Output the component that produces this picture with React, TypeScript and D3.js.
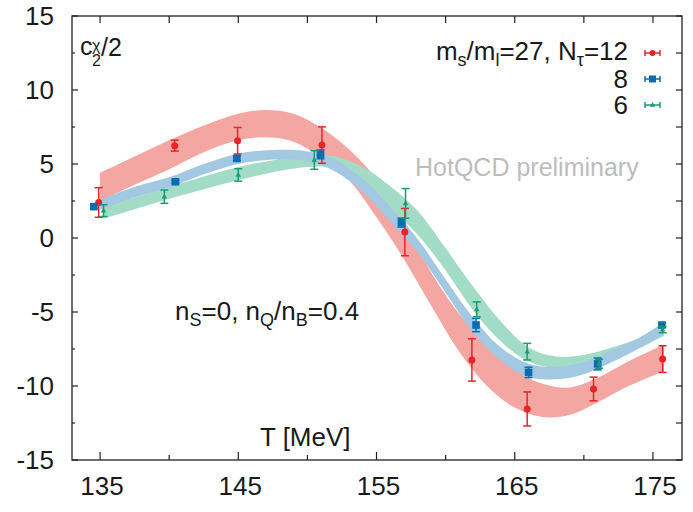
import React from "react";
import * as d3 from "d3";

// fit bands (T, lower, upper)
const redBandT = [135, 137.5, 140, 142.5, 145, 147, 149, 151, 153, 155, 157, 159, 161, 163, 165, 167, 169, 171, 173, 175.8];
const redBandLo = [2.5, 3.6, 4.65, 5.8, 6.6, 6.8, 6.5, 5.4, 3.9, 1.4, -1.45, -4.65, -7.7, -10.0, -11.45, -12.1, -11.95, -11.1, -10.1, -9.0];
const redBandHi = [4.4, 5.5, 6.6, 7.6, 8.4, 8.65, 8.4, 7.45, 6.0, 4.0, 1.2, -2.4, -5.15, -7.2, -8.9, -9.85, -10.1, -9.45, -8.45, -7.2];

const blueBandT = [135, 137.5, 140, 142.5, 145, 147.5, 150, 152, 154, 156, 158, 160, 162, 164, 166, 168, 170, 172, 174, 175.8];
const blueBandLo = [1.9, 2.75, 3.4, 4.3, 5.0, 5.3, 5.2, 4.5, 3.1, 1.1, -1.0, -3.7, -6.4, -8.3, -9.4, -9.55, -9.2, -8.4, -7.45, -6.45];
const blueBandHi = [2.6, 3.45, 4.1, 5.0, 5.7, 5.95, 5.85, 5.3, 4.0, 2.1, -0.1, -2.8, -5.4, -7.4, -8.5, -8.7, -8.4, -7.6, -6.75, -5.7];

const greenBandT = [135.2, 137.5, 140, 142.5, 145, 147.5, 150, 152, 154, 156, 158, 160, 162, 164, 166, 168, 170, 172, 174, 175.8];
const greenBandLo = [1.3, 1.95, 2.65, 3.3, 3.9, 4.45, 4.8, 4.7, 3.7, 2.0, 0.2, -2.2, -4.9, -7.0, -8.35, -8.8, -8.7, -8.2, -7.45, -6.6];
const greenBandHi = [2.1, 2.75, 3.45, 4.15, 4.8, 5.25, 5.6, 5.5, 4.8, 3.5, 1.8, -0.7, -3.3, -5.65, -7.4, -8.0, -7.9, -7.4, -6.75, -5.9];

// lattice points (T, value, error)
const redT = [134.9, 140.4, 144.95, 151.05, 157.05, 161.9, 165.9, 170.7, 175.7];
const redV = [2.4, 6.24, 6.57, 6.28, 0.4, -8.24, -11.55, -10.2, -8.18];
const redE = [1.0, 0.37, 0.9, 1.23, 1.6, 1.43, 1.15, 0.8, 0.9];

const blueT = [134.55, 140.45, 144.9, 150.95, 156.8, 162.2, 166.0, 171.0, 175.65];
const blueV = [2.12, 3.8, 5.38, 5.65, 1.04, -5.88, -9.08, -8.51, -5.88];
const blueE = [0.1, 0.1, 0.15, 0.3, 0.3, 0.45, 0.35, 0.4, 0.15];

const greenT = [135.25, 139.65, 145.0, 150.5, 157.1, 162.25, 165.9, 171.1, 175.7];
const greenV = [1.85, 2.79, 4.26, 5.27, 2.34, -4.82, -7.68, -8.5, -6.2];
const greenE = [0.4, 0.45, 0.42, 0.63, 1.0, 0.5, 0.56, 0.3, 0.2];

const xMajor = [135, 145, 155, 165, 175];
const xMinor = [140, 150, 160, 170];
const yMajor = [-15, -10, -5, 0, 5, 10, 15];
const yMinor = [-12.5, -7.5, -2.5, 2.5, 7.5, 12.5];

const W = 693;
const H = 512;
const margin = { top: 16, right: 11, bottom: 52, left: 72 };

const RED = "#e8242a";
const BLUE = "#0a6db0";
const GREEN = "#1a9c72";
const FONT = "'Liberation Sans', Arial, Helvetica, sans-serif";
const INK = "#1a1a1a";

const x = d3.scaleLinear().domain([132.97, 177.1]).range([margin.left, W - margin.right]);
const y = d3.scaleLinear().domain([-15, 15]).range([H - margin.bottom, margin.top]);

function bandPath(T: number[], lo: number[], hi: number[]) {
  const area = d3
    .area<number>()
    .x((i) => x(T[i]))
    .y0((i) => y(lo[i]))
    .y1((i) => y(hi[i]))
    .curve(d3.curveCatmullRom.alpha(0.5));
  return area(d3.range(T.length)) || "";
}

function ErrBars({ T, V, E, color }: { T: number[]; V: number[]; E: number[]; color: string }) {
  return (
    <g stroke={color} strokeWidth={1.5} fill="none">
      {T.map((t, i) => {
        const cx = x(t);
        const y0 = y(V[i] - E[i]);
        const y1 = y(V[i] + E[i]);
        return (
          <g key={i}>
            <line x1={cx} x2={cx} y1={y0} y2={y1} />
            <line x1={cx - 4} x2={cx + 4} y1={y0} y2={y0} />
            <line x1={cx - 4} x2={cx + 4} y1={y1} y2={y1} />
          </g>
        );
      })}
    </g>
  );
}

const tri = (cx: number, cy: number, s: number) =>
  `M${cx},${cy - s}L${cx + s * 0.9},${cy + s * 0.6}L${cx - s * 0.9},${cy + s * 0.6}Z`;

function LegendSample({ cy, color, kind }: { cy: number; color: string; kind: string }) {
  const x0 = 645;
  const x1 = 660;
  const cx = 652.5;
  return (
    <g>
      <g stroke={color} strokeWidth={1.5}>
        <line x1={x0} x2={x1} y1={cy} y2={cy} />
        <line x1={x0} x2={x0} y1={cy - 3} y2={cy + 3} />
        <line x1={x1} x2={x1} y1={cy - 3} y2={cy + 3} />
      </g>
      {kind === "circle" && <circle cx={cx} cy={cy} r={3} fill={color} />}
      {kind === "square" && <rect x={cx - 3.5} y={cy - 3.5} width={7} height={7} fill={color} />}
      {kind === "tri" && <path d={tri(cx, cy, 3)} fill={color} />}
    </g>
  );
}

export default function App() {
  const left = margin.left;
  const right = W - margin.right;
  const top = margin.top;
  const bottom = H - margin.bottom;

  return (
    <svg
      width={W}
      height={H}
      style={{ position: "absolute", left: 0, top: 0, background: "#fff" }}
      fontFamily={FONT}
    >
      {/* bands */}
      <path d={bandPath(redBandT, redBandLo, redBandHi)} fill="#f4a6a2" />
      <path d={bandPath(greenBandT, greenBandLo, greenBandHi)} fill="#a2dcc6" />
      <path d={bandPath(blueBandT, blueBandLo, blueBandHi)} fill="#a2c8e2" />

      {/* red points */}
      <ErrBars T={redT} V={redV} E={redE} color={RED} />
      {redT.map((t, i) => (
        <circle key={"r" + i} cx={x(t)} cy={y(redV[i])} r={3.5} fill={RED} />
      ))}

      {/* blue points */}
      <ErrBars T={blueT} V={blueV} E={blueE} color={BLUE} />
      {blueT.map((t, i) => (
        <rect key={"b" + i} x={x(t) - 3.8} y={y(blueV[i]) - 3.8} width={7.6} height={7.6} fill={BLUE} />
      ))}

      {/* green points */}
      <ErrBars T={greenT} V={greenV} E={greenE} color={GREEN} />
      {greenT.map((t, i) => (
        <path key={"g" + i} d={tri(x(t), y(greenV[i]), 3)} fill={GREEN} />
      ))}

      {/* frame */}
      <rect x={left} y={top} width={right - left} height={bottom - top} fill="none" stroke="#222" strokeWidth={1.3} />

      {/* ticks */}
      <g stroke="#222" strokeWidth={1.2}>
        {xMajor.map((t) => (
          <g key={"xM" + t}>
            <line x1={x(t)} x2={x(t)} y1={bottom} y2={bottom - 8} />
            <line x1={x(t)} x2={x(t)} y1={top} y2={top + 7} />
          </g>
        ))}
        {xMinor.map((t) => (
          <g key={"xm" + t}>
            <line x1={x(t)} x2={x(t)} y1={bottom} y2={bottom - 5} />
            <line x1={x(t)} x2={x(t)} y1={top} y2={top + 7} />
          </g>
        ))}
        {yMajor.map((t) => (
          <g key={"yM" + t}>
            <line x1={left} x2={left + 6} y1={y(t)} y2={y(t)} />
            <line x1={right} x2={right - 6} y1={y(t)} y2={y(t)} />
          </g>
        ))}
        {yMinor.map((t) => (
          <g key={"ym" + t}>
            <line x1={left} x2={left + 3} y1={y(t)} y2={y(t)} />
            <line x1={right} x2={right - 6} y1={y(t)} y2={y(t)} />
          </g>
        ))}
      </g>

      {/* tick labels */}
      <g fontSize={26} fill={INK}>
        {yMajor.map((t) => (
          <text key={"yl" + t} x={54} y={y(t)} dy="0.36em" textAnchor="end">
            {t}
          </text>
        ))}
        {xMajor.map((t) => (
          <text key={"xl" + t} x={x(t) + 2} y={495} textAnchor="middle">
            {t}
          </text>
        ))}
      </g>

      {/* y label c_2^chi/2 */}
      <g fill={INK}>
        <text x={80} y={55} fontSize={25}>c</text>
        <text x={92} y={66} fontSize={16}>2</text>
        <text x={92} y={51} fontSize={16}>χ</text>
        <text x={101} y={56} fontSize={25}>/2</text>
      </g>

      {/* legend */}
      <g fill={INK} fontSize={26} textAnchor="end">
        <text x={628} y={60}>
          m<tspan fontSize={18} dy={6}>s</tspan>
          <tspan dy={-6}>/m</tspan>
          <tspan fontSize={18} dy={6}>l</tspan>
          <tspan dy={-6}>=27, N</tspan>
          <tspan fontSize={18} dy={6}>τ</tspan>
          <tspan dy={-6}>=12</tspan>
        </text>
        <text x={628} y={88}>8</text>
        <text x={628} y={114}>6</text>
      </g>
      <LegendSample cy={53} color={RED} kind="circle" />
      <LegendSample cy={79} color={BLUE} kind="square" />
      <LegendSample cy={105} color={GREEN} kind="tri" />

      <text x={415} y={176} fontSize={25} fill="#bdbdbd">
        HotQCD preliminary
      </text>

      <text x={175} y={320} fontSize={26} fill={INK}>
        n<tspan fontSize={18} dy={6}>S</tspan>
        <tspan dy={-6}>=0, n</tspan>
        <tspan fontSize={18} dy={6}>Q</tspan>
        <tspan dy={-6}>/n</tspan>
        <tspan fontSize={18} dy={6}>B</tspan>
        <tspan dy={-6}>=0.4</tspan>
      </text>

      <text x={260} y={446} fontSize={26} fill={INK}>
        T [MeV]
      </text>
    </svg>
  );
}
